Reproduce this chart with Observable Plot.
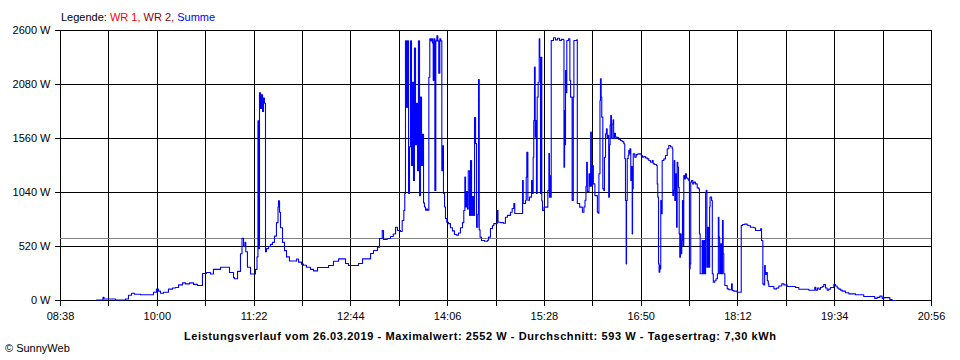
<!DOCTYPE html>
<html><head><meta charset="utf-8">
<script src="https://cdn.jsdelivr.net/npm/d3@7"></script>
<script src="https://cdn.jsdelivr.net/npm/@observablehq/plot@0.6"></script>
<style>
body{margin:0;background:#fff;}
#chart{width:960px;height:360px;}
svg{font-family:"Liberation Sans",Arial,sans-serif;}
</style></head><body><div id="chart"></div>
<script>
// time of reading in minutes of day, and power (W) of "Summe"
const minuteOfDay = [548.5,554.0,554.9,562.9,564.6,571.4,573.1,575.6,578.2,580.7,585.8,594.3,596.8,599.3,601.0,602.7,605.3,609.5,612.9,615.4,618.0,621.4,623.9,627.3,630.7,634.1,638.3,641.7,645.1,647.6,653.6,661.2,664.6,665.4,668.0,670.5,671.8,673.1,674.3,675.0,676.4,679.0,683.2,684.5,685.3,686.0,686.6,687.5,688.3,689.2,690.0,690.8,691.7,692.5,694.2,695.9,697.6,699.3,701.0,702.3,702.7,703.6,704.4,706.1,707.8,709.5,712.0,718.0,719.7,722.2,723.9,726.4,729.8,732.4,735.8,745.1,749.3,753.6,759.5,762.0,770.5,773.9,780.7,783.2,786.6,788.3,790.6,791.7,794.8,797.6,799.9,801.9,803.5,806.1,807.5,808.9,809.7,810.3,811.2,812.0,812.9,813.7,814.6,815.4,816.3,817.1,817.9,818.8,819.6,820.5,821.3,822.2,823.0,823.9,824.7,825.6,826.4,827.3,828.1,829.0,830.1,830.9,831.8,832.3,833.2,833.8,834.3,835.2,836.0,836.9,837.7,838.5,839.4,840.2,841.1,841.9,842.5,843.4,844.2,845.3,846.7,848.4,850.1,851.8,853.5,855.2,856.9,858.6,859.7,860.6,861.2,862.0,862.9,863.5,864.6,865.4,866.3,867.1,868.0,868.8,869.7,870.5,871.6,872.2,872.8,873.5,874.7,877.3,879.8,880.7,882.3,884.0,885.1,888.0,888.7,890.8,893.4,895.0,896.7,899.3,900.7,902.1,902.9,909.5,910.1,912.0,912.6,913.1,914.0,915.4,917.1,917.7,918.5,919.0,919.6,920.2,920.7,921.3,921.9,922.7,923.6,924.1,924.7,925.3,925.8,926.4,927.7,930.9,931.8,932.3,932.8,933.2,933.8,935.7,937.4,939.1,940.8,942.5,944.2,944.6,945.1,945.5,945.9,946.5,947.0,948.5,949.6,950.2,951.5,952.5,953.0,955.3,955.9,957.9,960.2,961.5,962.4,963.2,963.8,964.4,965.8,966.6,967.2,967.8,968.6,969.5,970.8,972.9,973.7,974.2,975.1,975.5,976.1,976.6,977.5,978.3,978.9,979.8,980.6,981.2,981.7,982.5,983.1,983.7,984.2,984.8,985.4,986.2,986.7,987.3,988.2,989.6,991.0,992.5,993.9,995.3,996.1,996.7,997.3,997.6,998.2,999.0,999.5,1000.1,1000.4,1001.2,1001.8,1002.4,1002.7,1003.3,1004.6,1005.8,1007.2,1010.1,1011.1,1012.2,1013.7,1015.1,1016.5,1017.9,1019.4,1020.2,1021.5,1023.0,1023.6,1024.1,1024.7,1025.2,1025.8,1026.4,1026.6,1027.2,1027.8,1029.2,1030.6,1032.1,1033.4,1034.9,1036.3,1036.8,1037.4,1038.0,1038.5,1039.4,1040.0,1040.5,1041.0,1041.6,1042.2,1042.7,1043.3,1043.9,1044.4,1045.0,1045.5,1046.1,1046.7,1047.5,1048.4,1049.5,1050.3,1050.9,1051.5,1052.0,1052.6,1053.7,1054.6,1056.0,1057.5,1058.8,1059.4,1060.0,1061.7,1062.3,1063.1,1064.0,1064.6,1065.1,1065.7,1066.3,1067.1,1068.0,1068.4,1069.7,1070.3,1071.1,1072.3,1073.4,1074.6,1075.4,1075.9,1076.5,1077.2,1078.1,1078.9,1079.5,1080.0,1080.9,1082.9,1084.3,1086.6,1087.2,1088.5,1091.4,1094.8,1095.9,1097.6,1099.9,1101.3,1102.6,1105.4,1106.9,1111.1,1112.0,1113.1,1114.0,1114.6,1115.2,1116.0,1116.9,1117.7,1118.2,1122.5,1124.8,1126.6,1129.1,1131.0,1133.7,1140.8,1143.6,1152.1,1157.1,1158.0,1159.4,1160.7,1161.9,1163.4,1164.7,1166.2,1167.6,1169.0,1170.4,1173.2,1174.7,1176.1,1177.5,1178.9,1180.3,1183.1,1185.9,1191.6,1198.6,1207.9,1209.9,1212.2,1214.2,1215.6,1220.7,1222.7,1225.5];
const watts = [5,30,15,15,5,5,15,50,70,60,55,55,80,110,90,70,80,110,120,125,150,170,160,170,155,145,260,270,255,300,320,270,220,210,280,450,600,520,560,470,320,255,300,420,1730,500,2000,1850,1980,1820,1950,1900,470,500,520,540,560,620,750,900,960,850,700,560,480,420,380,400,370,350,340,320,300,285,318,337,378,401,356,337,356,401,452,481,513,597,674,587,597,616,640,706,674,665,770,867,1030,2500,1860,2500,1030,1480,2500,1300,2100,1155,2430,1500,1900,1250,2500,1010,1960,1300,1600,940,900,870,880,870,2150,2520,2500,2520,2480,2120,2520,1060,2500,2550,2500,2190,2520,2500,1250,1490,1030,900,790,754,740,700,670,636,630,650,700,750,867,1188,900,1050,880,1250,820,1348,820,1000,820,1762,1512,706,830,2128,680,610,578,570,580,610,693,720,740,867,754,750,744,802,820,850,886,934,838,1155,934,966,1188,1428,966,995,1155,1030,1380,1733,2247,1573,1733,1030,1958,2102,2520,2343,1030,2343,960,867,899,1059,1415,995,1200,995,2504,2530,2510,2525,2505,2515,2510,1284,1830,1500,2215,2000,2504,2520,2120,1958,963,1958,2504,2510,934,899,850,900,966,1100,1332,1050,1220,1100,1621,1100,1300,1123,1010,850,840,1220,1926,2135,1960,1766,1077,1060,1380,1605,1653,1570,1590,995,1500,1690,1782,1560,1700,1741,1560,1610,1573,1570,1550,1541,1530,1509,1367,963,353,963,1367,1396,1444,1412,1460,1155,1290,642,1077,1412,1380,1405,1412,1396,1380,1386,1373,1364,1348,1332,1348,1316,1310,1300,1123,995,353,273,337,305,963,835,1348,1364,1396,1461,1492,1480,1461,1011,1060,1348,963,1220,706,1332,1284,1090,642,417,642,450,578,963,530,1204,1170,1220,1180,1170,1155,305,353,1140,1155,1123,1140,1123,1085,1075,642,257,578,257,578,257,1043,1060,320,706,320,900,995,963,257,176,190,210,257,802,610,257,545,257,770,450,257,144,112,103,160,96,90,80,722,732,735,725,720,706,700,674,690,578,160,150,337,250,270,190,160,135,112,120,140,160,150,135,125,109,99,128,100,120,108,125,135,154,120,100,110,125,154,140,120,110,100,90,75,64,55,39,20,30,42,20,28,10,0,0];

const xTickLabels = ["08:38","10:00","11:22","12:44","14:06","15:28","16:50","18:12","19:34","20:56"];
const yTicks = [0, 520, 1040, 1560, 2080, 2600];
const averageW = 593;
const legendParts = [["Legende: ", "#000000"], ["WR 1, ", "#ff0000"], ["WR 2, ", "#900000"], ["Summe", "#0000ff"]];
const titleText = "Leistungsverlauf vom 26.03.2019 - Maximalwert: 2552 W - Durchschnitt: 593 W - Tagesertrag: 7,30 kWh";
const creditText = "© SunnyWeb";

const data = minuteOfDay.map((m, i) => ({m, w: watts[i]}));
const labelMin = xTickLabels.map(s => { const [h, mm] = s.split(":").map(Number); return h * 60 + mm; });
const gridMin = labelMin.flatMap((m, i) => i < labelMin.length - 1 ? [m, (m + labelMin[i + 1]) / 2] : [m]);
const fmtX = m => { const k = labelMin.indexOf(m); return k >= 0 ? xTickLabels[k] : ""; };

const chart = Plot.plot({
  width: 960, height: 360,
  marginLeft: 60, marginRight: 29, marginTop: 30, marginBottom: 60,
  style: {fontFamily: "'Liberation Sans', Arial, sans-serif", fontSize: "11px", color: "#000", background: "#fff", overflow: "visible"},
  x: {domain: [labelMin[0], labelMin[labelMin.length - 1]], label: null},
  y: {domain: [0, 2600], label: null},
  marks: [
    Plot.ruleX(gridMin, {stroke: "#000", strokeWidth: 1, shapeRendering: "crispEdges"}),
    Plot.ruleY(yTicks, {stroke: "#000", strokeWidth: 1, shapeRendering: "crispEdges"}),
    Plot.ruleY([averageW], {stroke: "#808080", strokeWidth: 1, shapeRendering: "crispEdges"}),
    Plot.axisX({ticks: gridMin, tickSize: 6, tickPadding: 6, tickFormat: fmtX, label: null, stroke: "#000", strokeOpacity: 1, fill: "#000", shapeRendering: "crispEdges"}),
    Plot.axisY({ticks: yTicks, tickSize: 5, tickPadding: 5, tickFormat: d => `${d} W`, label: null, stroke: "#000", strokeOpacity: 1, fill: "#000", shapeRendering: "crispEdges"}),
    Plot.lineY(data, {x: "m", y: "w", curve: "step-after", stroke: "#0000ff", strokeWidth: 1.1})
  ]
});
document.getElementById("chart").appendChild(chart);

const svg = d3.select(chart);
const leg = svg.append("text").attr("x", 61).attr("y", 20.5).attr("font-size", 11).attr("text-anchor", "start");
legendParts.forEach(([t, c]) => leg.append("tspan").attr("fill", c).text(t));
svg.append("text").attr("x", 480).attr("y", 340).attr("text-anchor", "middle")
  .attr("font-size", 11).attr("font-weight", "bold").attr("fill", "#000")
  .attr("textLength", 592).attr("lengthAdjust", "spacing").text(titleText);
svg.append("text").attr("x", 5).attr("y", 352).attr("font-size", 11).attr("fill", "#000")
  .attr("text-anchor", "start").text(creditText);
</script></body></html>
